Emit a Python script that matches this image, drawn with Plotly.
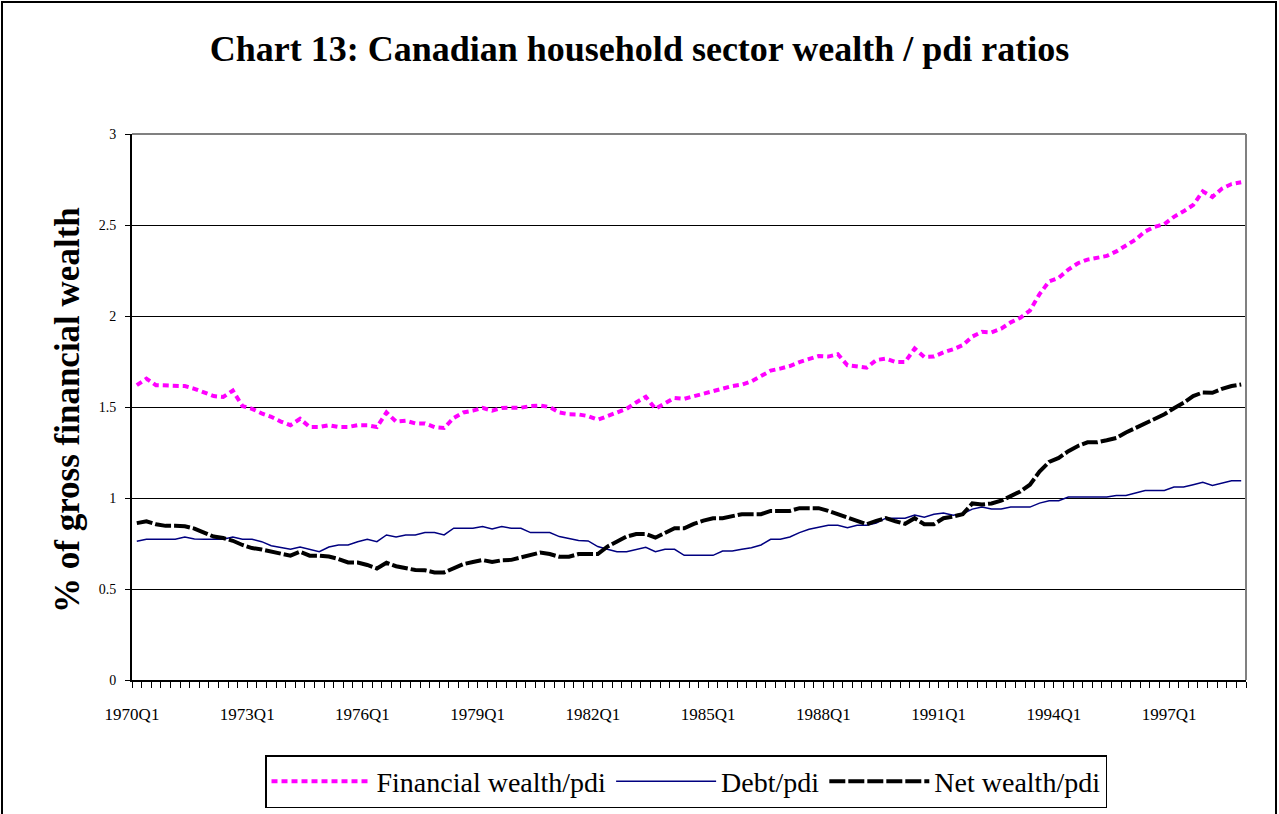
import plotly.graph_objects as go

# ---------------- data ----------------
quarters = [f"{y}Q{q}" for y in range(1970, 1999) for q in range(1, 5)]  # 1970Q1..1998Q4

financial_wealth = [
    1.62, 1.656, 1.62, 1.62, 1.62, 1.615, 1.60, 1.58, 1.56, 1.555, 1.59, 1.505,
    1.49, 1.465, 1.446, 1.42, 1.40, 1.435, 1.39, 1.39, 1.40, 1.39, 1.39, 1.40,
    1.40, 1.39, 1.47, 1.42, 1.425, 1.41, 1.41, 1.39, 1.385, 1.44, 1.47, 1.48,
    1.495, 1.48, 1.495, 1.496, 1.496, 1.505, 1.508, 1.50, 1.47, 1.46, 1.459, 1.45,
    1.43, 1.45, 1.468, 1.49, 1.525, 1.556, 1.49, 1.52, 1.55, 1.545, 1.56, 1.57,
    1.587, 1.604, 1.615, 1.623, 1.641, 1.67, 1.70, 1.711, 1.725, 1.747, 1.766, 1.78,
    1.777, 1.79, 1.729, 1.722, 1.716, 1.758, 1.766, 1.747, 1.747, 1.821, 1.775, 1.777,
    1.80, 1.817, 1.84, 1.887, 1.913, 1.91, 1.93, 1.965, 1.99, 2.03, 2.12, 2.19,
    2.21, 2.255, 2.29, 2.31, 2.318, 2.33, 2.355, 2.39, 2.42, 2.465, 2.49, 2.505,
    2.545, 2.575, 2.61, 2.685, 2.654, 2.70, 2.725, 2.735,
]

debt = [
    0.762, 0.773, 0.773, 0.773, 0.773, 0.785, 0.775, 0.773, 0.773, 0.773, 0.785, 0.773,
    0.773, 0.76, 0.738, 0.727, 0.718, 0.731, 0.72, 0.705, 0.731, 0.742, 0.742, 0.76,
    0.773, 0.76, 0.797, 0.786, 0.797, 0.797, 0.81, 0.81, 0.797, 0.834, 0.834, 0.834,
    0.843, 0.83, 0.843, 0.834, 0.834, 0.81, 0.81, 0.81, 0.788, 0.777, 0.766, 0.764,
    0.733, 0.718, 0.705, 0.705, 0.718, 0.729, 0.705, 0.718, 0.718, 0.685, 0.685, 0.685,
    0.685, 0.709, 0.709, 0.718, 0.727, 0.742, 0.773, 0.773, 0.786, 0.81, 0.828, 0.839,
    0.85, 0.85, 0.837, 0.85, 0.85, 0.863, 0.889, 0.889, 0.889, 0.907, 0.895, 0.911,
    0.918, 0.905, 0.913, 0.939, 0.95, 0.939, 0.939, 0.95, 0.95, 0.95, 0.972, 0.985,
    0.985, 1.005, 1.005, 1.005, 1.005, 1.005, 1.014, 1.014, 1.027, 1.041, 1.041, 1.041,
    1.06, 1.06, 1.073, 1.086, 1.069, 1.082, 1.095, 1.095,
]

net_wealth = [
    0.862, 0.872, 0.856, 0.847, 0.847, 0.845, 0.832, 0.81, 0.788, 0.78, 0.765, 0.742,
    0.725, 0.717, 0.707, 0.693, 0.683, 0.705, 0.683, 0.683, 0.678, 0.665, 0.646, 0.645,
    0.632, 0.613, 0.644, 0.625, 0.613, 0.604, 0.603, 0.591, 0.591, 0.615, 0.637, 0.648,
    0.659, 0.648, 0.658, 0.66, 0.672, 0.687, 0.70, 0.692, 0.677, 0.677, 0.692, 0.692,
    0.692, 0.733, 0.76, 0.788, 0.802, 0.802, 0.782, 0.808, 0.834, 0.834, 0.858, 0.876,
    0.889, 0.889, 0.902, 0.911, 0.911, 0.911, 0.929, 0.929, 0.929, 0.944, 0.944, 0.944,
    0.929, 0.91, 0.89, 0.87, 0.856, 0.874, 0.889, 0.872, 0.858, 0.889, 0.856, 0.856,
    0.889, 0.898, 0.911, 0.97, 0.964, 0.97, 0.985, 1.01, 1.036, 1.073, 1.145, 1.198,
    1.22, 1.257, 1.286, 1.306, 1.306, 1.317, 1.33, 1.36, 1.385, 1.416, 1.441, 1.46,
    1.493, 1.523, 1.56, 1.58, 1.578, 1.60, 1.615, 1.624,
]

series_names = ["Financial wealth/pdi", "Debt/pdi", "Net wealth/pdi"]
label_every = 12  # a tick label every 3 years

# ---------------- layout constants ----------------
W, H = 1279, 814
L, R, T, B = 132, 33, 134, 134
PW, PH = W - L - R, H - T - B
SERIF = "Liberation Serif, Times New Roman, serif"


def px_x(px):
    return (px - L) / PW


def px_y(py):
    return (H - B - py) / PH


idx = list(range(len(quarters)))

fig = go.Figure()
fig.add_trace(go.Scatter(
    x=idx, y=financial_wealth, name=series_names[0], mode="lines",
    line=dict(color="#FF00FF", width=4, dash="6px,4px"),
    customdata=quarters, hovertemplate="%{customdata}: %{y}<extra></extra>",
))
fig.add_trace(go.Scatter(
    x=idx, y=debt, name=series_names[1], mode="lines",
    line=dict(color="#000080", width=1.5),
    customdata=quarters, hovertemplate="%{customdata}: %{y}<extra></extra>",
))
fig.add_trace(go.Scatter(
    x=idx, y=net_wealth, name=series_names[2], mode="lines",
    line=dict(color="black", width=4, dash="16px,3px"),
    customdata=quarters, hovertemplate="%{customdata}: %{y}<extra></extra>",
))

fig.update_layout(
    width=W, height=H,
    margin=dict(l=L, r=R, t=T, b=B, pad=0, autoexpand=False),
    paper_bgcolor="white", plot_bgcolor="white",
    font=dict(family=SERIF, color="black"),
    title=dict(
        text="<b>Chart 13: Canadian household sector wealth / pdi ratios</b>",
        font=dict(family=SERIF, size=36, color="black"),
        x=0.5, xanchor="center", xref="container",
        y=1 - 48 / H, yanchor="middle", yref="container",
    ),
    showlegend=True,
    legend=dict(
        orientation="h", x=px_x(686), xanchor="center", y=px_y(755), yanchor="top",
        bordercolor="black", borderwidth=1.5, bgcolor="white",
        font=dict(family=SERIF, size=28, color="black"),
        itemwidth=100, traceorder="normal",
    ),
    xaxis=dict(
        range=[-0.5, len(quarters) - 0.5],
        showgrid=False, zeroline=False,
        showline=True, linecolor="black", linewidth=2,
        ticks="outside", ticklen=6, tickwidth=1, tickcolor="black",
        tickvals=[i - 0.5 for i in idx[::label_every]],
        ticktext=quarters[::label_every],
        tickfont=dict(family=SERIF, size=17, color="black"),
        ticklabelstandoff=12,
        minor=dict(ticks="outside", ticklen=6, tickwidth=1, tickcolor="black",
                   tick0=-0.5, dtick=1, showgrid=False),
    ),
    yaxis=dict(
        range=[0, 3], dtick=0.5, tick0=0,
        showgrid=True, gridcolor="black", gridwidth=1,
        zeroline=False,
        showline=True, linecolor="black", linewidth=2,
        ticks="outside", ticklen=5, tickwidth=1, tickcolor="black",
        tickfont=dict(family=SERIF, size=14, color="black"),
        ticklabelstandoff=6,
    ),
    annotations=[dict(
        text="<b>% of gross financial wealth</b>", textangle=-90,
        font=dict(family=SERIF, size=35, color="black"),
        xref="paper", yref="paper", x=px_x(67), y=px_y(410),
        xanchor="center", yanchor="middle", showarrow=False,
    )],
    shapes=[
        # plot-area frame (grey) on top and right
        dict(type="line", xref="paper", yref="paper", x0=0, x1=1, y0=1, y1=1,
             line=dict(color="#808080", width=2), layer="above"),
        dict(type="line", xref="paper", yref="paper", x0=1, x1=1, y0=0, y1=1,
             line=dict(color="#808080", width=2), layer="above"),
        # chart-area border
        dict(type="rect", xref="paper", yref="paper",
             x0=px_x(2), x1=px_x(W - 3), y0=px_y(H + 10), y1=px_y(2),
             line=dict(color="black", width=2), fillcolor="rgba(0,0,0,0)", layer="above"),
    ],
)

fig.write_html(
    "out.html",
    config={"displayModeBar": False},
    post_script="document.body.style.margin='0';document.body.style.overflow='hidden';",
)
